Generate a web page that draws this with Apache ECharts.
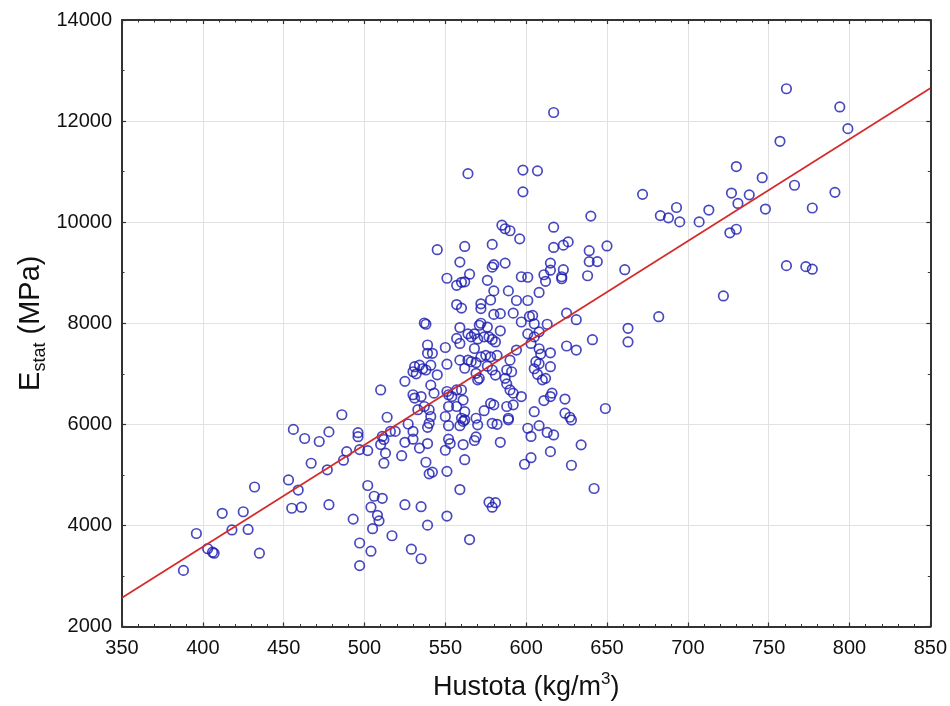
<!DOCTYPE html>
<html>
<head>
<meta charset="utf-8">
<script src="https://cdn.jsdelivr.net/npm/echarts@6/dist/echarts.min.js"></script>
<style>
html,body{margin:0;padding:0;background:#fff;}
#chart{width:950px;height:706px;}
</style>
</head>
<body>
<div id="chart"></div>
<script>
// Density (kg/m3) of each sample
var hustota = [
388,396,403,406,407,412,418,425,428,432,435,453,455,461,459,456,463,467,472,477,
478,478,486,487,489,496,496,497,502,511,512,516,519,510,513,512,523,525,530,530,
527,534,539,539,540,538,540,542,550,552,553,552,559,561,561,568,569,562,551,559,
502,506,511,504,508,509,493,505,525,535,539,551,517,497,504,497,529,535,565,510,
514,525,530,531,535,541,543,537,540,541,533,551,552,554,557,560,561,557,562,552,
550,560,562,569,570,570,530,534,538,541,545,536,532,531,537,538,539,539,542,550,
551,557,560,559,557,564,566,568,570,571,559,559,564,566,562,569,571,572,572,578,
580,589,594,601,608,580,584,592,572,576,584,574,577,579,581,568,572,575,578,582,
569,576,579,581,587,588,590,592,578,580,574,588,592,589,597,588,591,590,594,597,
601,605,602,604,613,605,608,603,608,609,606,608,605,607,610,612,615,615,625,631,
641,625,631,605,611,616,615,624,624,627,628,601,603,608,613,617,634,615,603,599,
628,642,584,579,582,589,649,577,581,579,564,598,607,598,640,585,587,590,617,596,
545,562,579,617,623,626,650,639,559,580,579,587,615,615,639,644,623,551,557,560,
562,565,576,597,601,611,612,622,622,638,617,661,672,683,688,693,695,707,713,722,
726,730,727,731,730,738,746,748,757,761,761,766,773,777,777,791,794,799,682,663,
663
];
// Static modulus of elasticity (MPa) of each sample
var estat = [
3110,3840,3540,3470,3450,4240,3910,4270,3920,4760,3450,4900,4340,4360,4700,5900,5720,5230,5660,5100,
5850,4410,6190,5290,5460,5835,5755,5500,5480,5760,5700,5860,5860,5600,5430,5230,5380,5645,5706,5860,
6007,5530,5620,5940,6020,5250,5020,5055,5487,5706,5620,5973,5973,6058,5600,5680,5750,5300,5070,4710,
4790,4577,4537,4360,4200,4090,4125,3935,4410,4370,4005,4185,3796,3652,3490,3205,3530,3340,3720,6680,
6140,6850,6585,6520,6550,6775,6617,6353,6290,6155,6290,6650,6585,6550,6680,6680,6480,6353,6250,6353,
6155,6120,6090,6120,5990,6880,7040,7170,7075,7170,6980,7100,7000,7140,8005,7980,7570,7405,7405,7520,
7190,8370,8300,7915,7700,7790,7730,7790,7690,7960,7600,7270,7270,7240,7110,7010,6910,8385,8290,8460,
8640,8640,8450,8450,8610,8175,8190,8200,8000,7925,7850,7730,7730,7680,7630,7500,7335,7365,7335,7365,
7220,7150,7075,6975,6910,6800,6680,6617,6415,6385,6270,6353,6385,6120,6550,7075,7040,7270,7470,8025,
7790,7990,8135,8155,7980,7730,7830,7600,7495,7390,7240,7200,7100,6990,6880,6910,7415,7140,7550,7470,
7675,8200,8070,6250,6470,6617,6550,6500,6220,6140,6086,5923,5760,5975,5840,5790,5594,5460,5340,5210,
5190,4730,5645,6020,6000,6090,6313,4460,4450,4360,10960,11030,11015,10600,10120,9940,9870,9830,9900,9670,
9455,9520,9560,9500,9545,9610,9530,9435,9210,9160,9110,9190,9190,9050,9220,9220,9060,8890,8750,8810,
8820,8970,8850,8920,8910,8960,8830,8920,8880,8940,12170,9060,10550,10130,10085,10290,10005,10005,10240,8540,
9790,9860,10576,10370,11100,10540,10880,10260,11600,12640,9140,10730,9120,10280,9070,10590,12280,11850,8130,7900,
7630
];
// Fitted regression line, read at the plot edges
var fitX = [350, 850];
var fitY = [2570, 12650];

var xTicks = {min: 350, max: 850, interval: 50};
var yTicks = {min: 2000, max: 14000, interval: 2000};

var scatterData = hustota.map(function (h, i) { return [h, estat[i]]; });
var lineData = fitX.map(function (x, i) { return [x, fitY[i]]; });

var FONT = 'Liberation Sans, Arial, sans-serif';
var frameLine = {show: true, onZero: false, lineStyle: {color: '#333', width: 2}};
var tick = {show: true, inside: true, length: 4, lineStyle: {color: '#333', width: 1.2}};
var minor = function (n) { return {show: true, splitNumber: n, length: 2.5, lineStyle: {color: '#333', width: 1}}; };
var grid = {show: true, lineStyle: {color: '#e2e2e2', width: 1}};
var plain = function (v) { return String(v); };

var chart = echarts.init(document.getElementById('chart'), null, {renderer: 'canvas'});
chart.setOption({
  animation: false,
  backgroundColor: '#fff',
  grid: {left: 122, right: 19, top: 20, bottom: 78},
  xAxis: [
    {
      type: 'value', position: 'bottom', min: xTicks.min, max: xTicks.max, interval: xTicks.interval,
      axisLine: frameLine, axisTick: tick, minorTick: minor(5), splitLine: grid,
      axisLabel: {fontSize: 20, color: '#111', margin: 12, fontFamily: FONT, formatter: plain},
      name: '{a|Hustota (kg/m}{s|3}{a|)}', nameLocation: 'middle', nameGap: 44,
      nameTextStyle: {
        color: '#111', fontFamily: FONT,
        rich: {
          a: {fontSize: 27, lineHeight: 34, color: '#111', fontFamily: FONT},
          s: {fontSize: 17, lineHeight: 17, verticalAlign: 'top', color: '#111', fontFamily: FONT}
        }
      }
    },
    {
      type: 'value', position: 'top', min: xTicks.min, max: xTicks.max, interval: xTicks.interval,
      axisLine: frameLine, axisTick: tick, minorTick: minor(5), splitLine: {show: false},
      axisLabel: {show: false}
    }
  ],
  yAxis: [
    {
      type: 'value', position: 'left', min: yTicks.min, max: yTicks.max, interval: yTicks.interval,
      axisLine: frameLine, axisTick: tick, minorTick: minor(2), splitLine: grid,
      axisLabel: {fontSize: 20, color: '#111', margin: 10, fontFamily: FONT, formatter: plain},
      name: '{a|E}{b|stat}{a| (MPa)}', nameLocation: 'middle', nameGap: 73, nameRotate: 90,
      nameMoveOverlap: false,
      nameTextStyle: {
        color: '#111', fontFamily: FONT,
        rich: {
          a: {fontSize: 29, lineHeight: 36, color: '#111', fontFamily: FONT},
          b: {fontSize: 18, lineHeight: 18, verticalAlign: 'bottom', color: '#111', fontFamily: FONT}
        }
      }
    },
    {
      type: 'value', position: 'right', min: yTicks.min, max: yTicks.max, interval: yTicks.interval,
      axisLine: frameLine, axisTick: tick, minorTick: minor(2), splitLine: {show: false},
      axisLabel: {show: false}
    }
  ],
  series: [
    {
      type: 'scatter', xAxisIndex: 0, yAxisIndex: 0, data: scatterData,
      symbol: 'circle', symbolSize: 9.5,
      itemStyle: {color: 'rgba(0,0,0,0)', borderColor: '#1a1ab0', borderWidth: 1.7},
      emphasis: {disabled: true}
    },
    {
      type: 'line', xAxisIndex: 0, yAxisIndex: 0, data: lineData,
      symbol: 'none', lineStyle: {color: '#d42a2a', width: 1.7},
      emphasis: {disabled: true}
    }
  ]
});
</script>
</body>
</html>
